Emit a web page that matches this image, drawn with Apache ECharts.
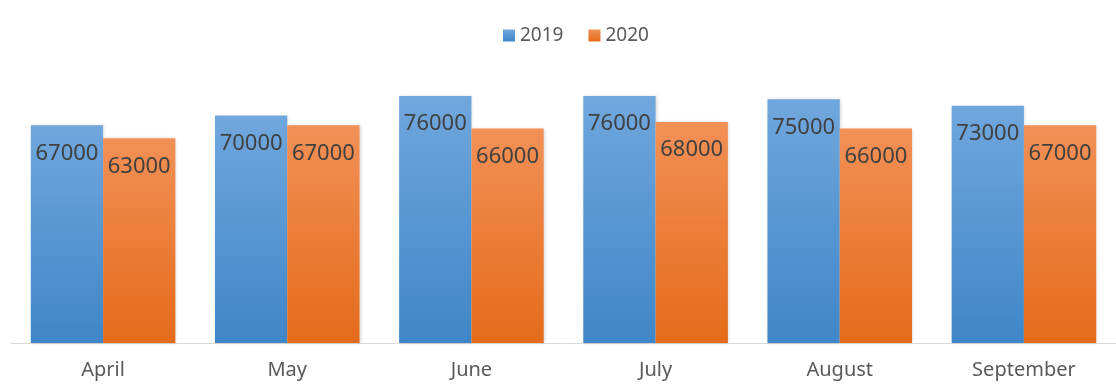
<!DOCTYPE html>
<html><head><meta charset="utf-8">
<script src="https://cdn.jsdelivr.net/npm/echarts@6/dist/echarts.min.js"></script>
<style>html,body{margin:0;padding:0;background:#fff}#c{width:1116px;height:384px}</style>
</head><body><div id="c"></div>
<script>
const categories = ['April', 'May', 'June', 'July', 'August', 'September'];
const seriesNames = ['2019', '2020'];
const values2019 = [67000, 70000, 76000, 76000, 75000, 73000];
const values2020 = [63000, 67000, 66000, 68000, 66000, 67000];

const chart = echarts.init(document.getElementById('c'));
const grad = (a, b) => new echarts.graphic.LinearGradient(0, 0, 0, 1, [{offset: 0, color: a}, {offset: 1, color: b}]);
const label = {
  show: true, position: 'insideTop', distance: 17,
  color: '#404040', fontSize: 22, fontFamily: 'Noto Sans'
};
chart.setOption({
  animation: false,
  legend: {
    top: 21, left: 498, itemWidth: 12, itemHeight: 12, itemGap: 25,
    textStyle: {color: '#595959', fontSize: 19, fontFamily: 'Noto Sans'},
    icon: 'rect'
  },
  grid: {left: 11, right: -12, top: 18, bottom: 41, containLabel: false},
  xAxis: {
    type: 'category', data: categories,
    axisLine: {lineStyle: {color: '#d9d9d9', width: 1}},
    axisTick: {show: false},
    axisLabel: {color: '#595959', fontSize: 20, fontFamily: 'Noto Sans', margin: 17}
  },
  yAxis: {type: 'value', min: 0, max: 100000, show: false, splitLine: {show: false}},
  series: [
    {name: seriesNames[0], type: 'bar', data: values2019, barGap: '0%', barCategoryGap: '21.5%',
     itemStyle: {color: grad('#70a7dd', '#3f86c8'), shadowColor: 'rgba(0,0,0,0.15)', shadowBlur: 3, shadowOffsetX: 1},
     label: label},
    {name: seriesNames[1], type: 'bar', data: values2020,
     itemStyle: {color: grad('#f29056', '#e46b1a'), shadowColor: 'rgba(0,0,0,0.15)', shadowBlur: 3, shadowOffsetX: 1},
     label: label}
  ]
});
</script></body></html>
